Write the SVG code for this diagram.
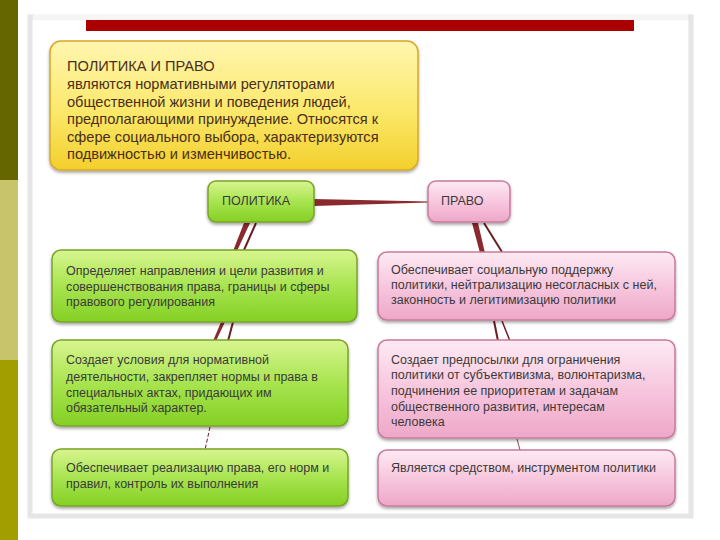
<svg xmlns="http://www.w3.org/2000/svg" width="720" height="540" viewBox="0 0 720 540">
<defs>
<linearGradient id="gY" x1="0" y1="0" x2="0" y2="1"><stop offset="0" stop-color="#fff6b0"/><stop offset="0.55" stop-color="#fbe86a"/><stop offset="1" stop-color="#f2cf2c"/></linearGradient>
<linearGradient id="gG" x1="0" y1="0" x2="0" y2="1"><stop offset="0" stop-color="#d8f590"/><stop offset="0.5" stop-color="#a8e450"/><stop offset="1" stop-color="#84d024"/></linearGradient>
<linearGradient id="gP" x1="0" y1="0" x2="0" y2="1"><stop offset="0" stop-color="#fdeaf3"/><stop offset="0.5" stop-color="#f7c7de"/><stop offset="1" stop-color="#eea7c8"/></linearGradient>
<filter id="sh" x="-5%" y="-5%" width="110%" height="120%"><feDropShadow dx="0" dy="2" stdDeviation="1.5" flood-color="#000" flood-opacity="0.35"/></filter>
</defs>
<style>
.y{fill:url(#gY);stroke:#d9a826;stroke-width:1.5;filter:url(#sh)}
.g{fill:url(#gG);stroke:#78a428;stroke-width:1.5;filter:url(#sh)}
.p{fill:url(#gP);stroke:#c97a9c;stroke-width:1.5;filter:url(#sh)}
text{font-family:"Liberation Sans",Arial,sans-serif;fill:#3a3a3a}
.t{font-size:12.5px}
.ty{font-size:14.6px;fill:#4a2e1a}
.c{fill:#8a2a2e}
.cl{stroke:#6a1e22;fill:none}
</style>
<rect width="720" height="540" fill="#fff"/>
<rect x="0" y="0" width="18" height="180" fill="#666600"/>
<rect x="0" y="180" width="18" height="180" fill="#c8c46c"/>
<rect x="0" y="360" width="18" height="180" fill="#a39e00"/>
<rect x="30" y="17" width="661" height="499" fill="#fff" stroke="#e6e6e6" stroke-width="5"/>
<rect x="33" y="14" width="655" height="5" fill="#f6f6f6"/>
<rect x="86" y="20" width="548" height="11" fill="#aa0000"/>

<g id="connectors">
<polygon class="c" points="314,199 314,206 428,202.6 428,201.4"/>
<polygon class="c" points="244,223 250,223 237,251 233,251"/>
<path class="cl" d="M256,223 L244,250" stroke-width="2"/>
<polygon class="c" points="221,322 225,322 216,341 213,341"/>
<path class="cl" d="M233,322 L228,341" stroke-width="2"/>
<path class="cl" d="M210,427 L205,450" stroke-width="1" stroke-dasharray="4,2"/>
<polygon class="c" points="472,223 478,223 485,253 480,253"/>
<path class="cl" d="M484,223 L502,252" stroke-width="2"/>
<path class="cl" d="M494,321 L498,341" stroke-width="2"/>
<path class="cl" d="M502,321 L510,341" stroke-width="1.5"/>
<path class="cl" d="M517,439 L520,450" stroke-width="0.8"/>
</g>

<g id="intro">
<rect class="y" x="50" y="41" width="368" height="129" rx="11"/>
<text class="ty" x="67" y="71">ПОЛИТИКА И ПРАВО</text>
<text class="ty" x="67" y="89">являются нормативными регуляторами</text>
<text class="ty" x="67" y="106.5">общественной жизни и поведения людей,</text>
<text class="ty" x="67" y="124">предполагающими принуждение. Относятся к</text>
<text class="ty" x="67" y="141.5">сфере социального выбора, характеризуются</text>
<text class="ty" x="67" y="159">подвижностью и изменчивостью.</text>
</g>

<g id="politika">
<rect class="g" x="208" y="181" width="106" height="41" rx="8"/>
<text class="t" x="222" y="205" font-size="11">ПОЛИТИКА</text>
</g>
<g id="pravo">
<rect class="p" x="428" y="181" width="82" height="41" rx="8"/>
<text class="t" x="441" y="205" font-size="11">ПРАВО</text>
</g>

<g id="pol1">
<rect class="g" x="52" y="250" width="305" height="72" rx="9"/>
<text class="t" x="66" y="275">Определяет направления и цели развития и</text>
<text class="t" x="66" y="291">совершенствования права, границы и сферы</text>
<text class="t" x="66" y="306">правового регулирования</text>
</g>
<g id="pol2">
<rect class="g" x="52" y="340" width="296" height="86" rx="9"/>
<text class="t" x="66" y="364">Создает условия для нормативной</text>
<text class="t" x="66" y="381">деятельности, закрепляет нормы и права в</text>
<text class="t" x="66" y="397">специальных актах, придающих им</text>
<text class="t" x="66" y="412">обязательный характер.</text>
</g>
<g id="pol3">
<rect class="g" x="52" y="449" width="296" height="57" rx="9"/>
<text class="t" x="66" y="472">Обеспечивает реализацию права, его норм и</text>
<text class="t" x="66" y="488">правил, контроль их выполнения</text>
</g>

<g id="prav1">
<rect class="p" x="378" y="252" width="297" height="68" rx="9"/>
<text class="t" x="391" y="274">Обеспечивает социальную поддержку</text>
<text class="t" x="391" y="289">политики, нейтрализацию несогласных с ней,</text>
<text class="t" x="391" y="304">законность и легитимизацию политики</text>
</g>
<g id="prav2">
<rect class="p" x="378" y="340" width="297" height="98" rx="9"/>
<text class="t" x="391" y="364">Создает предпосылки для ограничения</text>
<text class="t" x="391" y="379">политики от субъективизма, волюнтаризма,</text>
<text class="t" x="391" y="395">подчинения ее приоритетам и задачам</text>
<text class="t" x="391" y="411">общественного развития, интересам</text>
<text class="t" x="391" y="426">человека</text>
</g>
<g id="prav3">
<rect class="p" x="378" y="450" width="297" height="56" rx="9"/>
<text class="t" x="391" y="472">Является средством, инструментом политики</text>
</g>
</svg>
